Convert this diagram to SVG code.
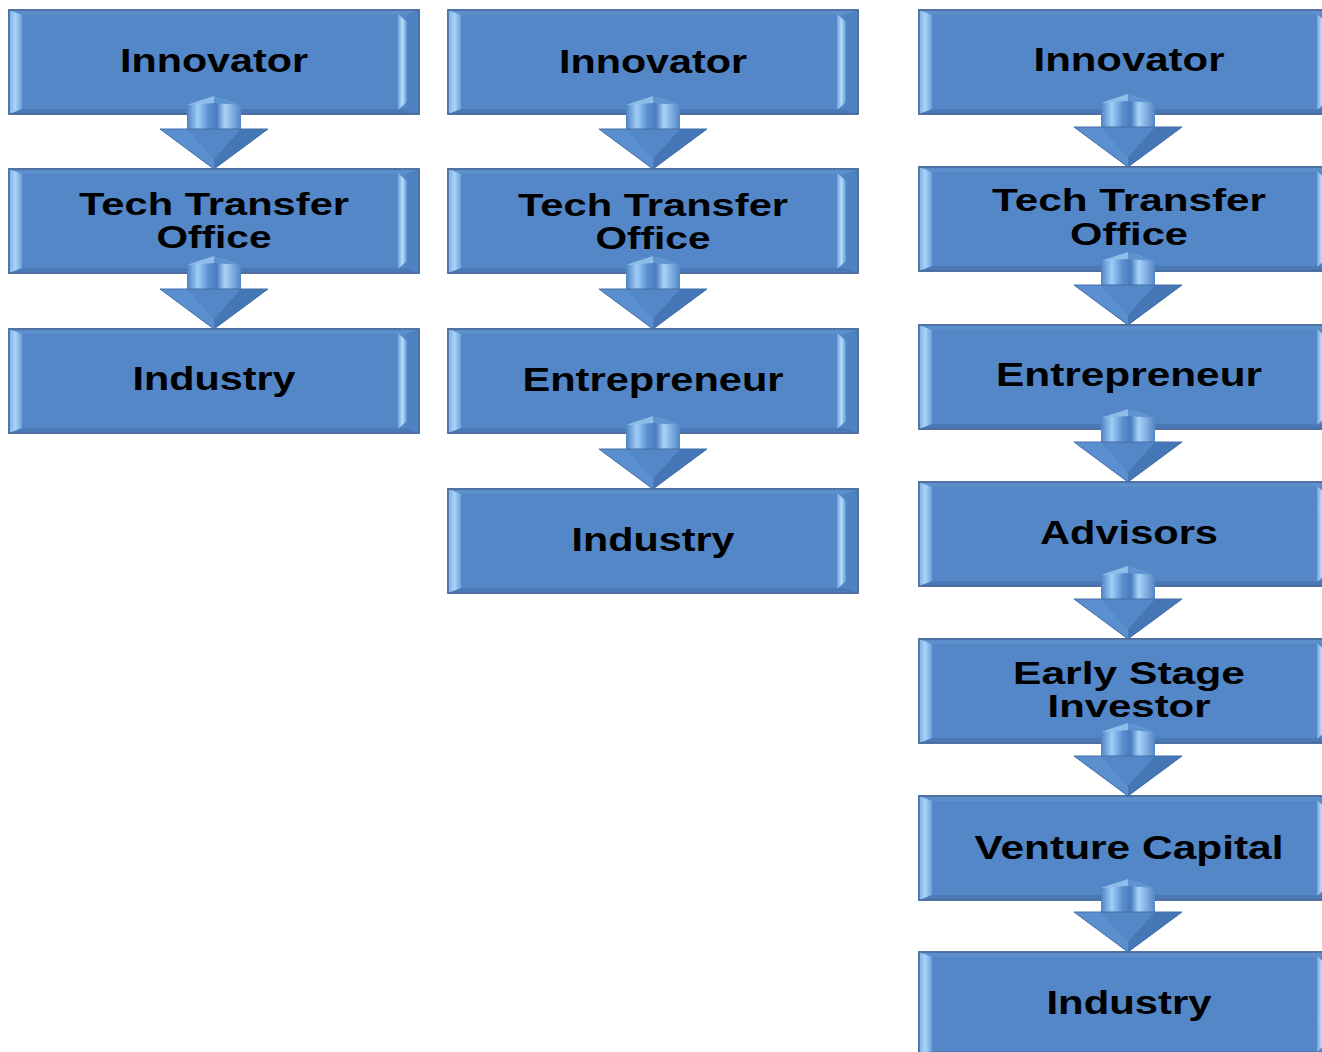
<svg xmlns="http://www.w3.org/2000/svg" width="1322" height="1052" viewBox="0 0 1322 1052">
<style>
.lbl{font-family:"Liberation Sans",Arial,sans-serif;font-weight:bold;fill:#000;text-anchor:middle}
.s{font-size:34px}
.d{font-size:32px}
.frame{fill:#5487c7;stroke:#47699a;stroke-width:1.5}
.topb{fill:#5d8fcd}
.botb{fill:#4b79b6}
.leftb{fill:url(#lg)}
.rightb{fill:#4f82c2}
.rstrip{fill:url(#rg)}
</style>
<defs>
<linearGradient id="lg" x1="0" x2="1" y1="0" y2="0">
<stop offset="0" stop-color="#7fb1e6"/>
<stop offset="0.5" stop-color="#a9d3f7"/>
<stop offset="1" stop-color="#6d9fdb"/>
</linearGradient>
<linearGradient id="rg" x1="0" x2="1" y1="0" y2="0">
<stop offset="0" stop-color="#6fa2dc"/>
<stop offset="0.5" stop-color="#b6dcfa"/>
<stop offset="1" stop-color="#5f92d0"/>
</linearGradient>
<linearGradient id="sg" x1="0" x2="1" y1="0" y2="0">
<stop offset="0" stop-color="#4f82c2"/>
<stop offset="0.2" stop-color="#9fcdf6"/>
<stop offset="0.4" stop-color="#5a8fcf"/>
<stop offset="0.55" stop-color="#4a7cbd"/>
<stop offset="0.7" stop-color="#a8d3f8"/>
<stop offset="1" stop-color="#5386c6"/>
</linearGradient>
<g id="arrow">
<path d="M-27,-40 L-27,-64 L0,-73 L27,-64 L27,-40Z" fill="url(#sg)"/>
<polygon points="-27,-64 0,-73 0,-66" fill="#8fbde9"/>
<polygon points="27,-64 0,-73 0,-66" fill="#5e93d2"/>
<polygon points="-54,-40 54,-40 0,0" fill="#4d80c1"/>
<polygon points="-54,-40 -27,-40 0,-10 0,0" fill="#5a8fd0"/>
<polygon points="54,-40 27,-40 0,-10 0,0" fill="#4576b6"/>
<polygon points="-27,-40 27,-40 0,-10" fill="#5487c7"/>
<polygon points="-54,-40 54,-40 0,0" fill="none" stroke="#456fa8" stroke-width="1"/>
</g>
<g id="box410">
<rect class="frame" x="0" y="0" width="410" height="104"/>
<polygon class="topb" points="0,0 410,0 397,5 13,5"/>
<polygon class="botb" points="0,104 410,104 397,99 13,99"/>
<polygon class="leftb" points="0,0 13,5 13,99 0,104"/>
<polygon class="rightb" points="410,0 397,5 397,99 410,104"/>
<polygon class="rstrip" points="389,4 398,12 398,92 389,100"/>
<rect x="0" y="0" width="410" height="104" fill="none" stroke="#47699a" stroke-width="1.5"/>
</g>
<g id="box420">
<rect class="frame" x="0" y="0" width="420" height="104"/>
<polygon class="topb" points="0,0 420,0 407,5 13,5"/>
<polygon class="botb" points="0,104 420,104 407,99 13,99"/>
<polygon class="leftb" points="0,0 13,5 13,99 0,104"/>
<polygon class="rightb" points="420,0 407,5 407,99 420,104"/>
<polygon class="rstrip" points="398,4 407,12 407,92 398,100"/>
<rect x="0" y="0" width="420" height="104" fill="none" stroke="#47699a" stroke-width="1.5"/>
</g>
</defs>
<rect width="1322" height="1052" fill="#fff"/>

<!-- Column 1 -->
<g id="c1-innovator"><use href="#box410" x="9" y="10"/><text class="lbl s" x="214" y="72" textLength="188" lengthAdjust="spacingAndGlyphs">Innovator</text></g>
<g id="c1-tto"><use href="#box410" x="9" y="169"/><text class="lbl d" x="214" y="215" textLength="270" lengthAdjust="spacingAndGlyphs">Tech Transfer</text><text class="lbl d" x="214" y="248" textLength="115" lengthAdjust="spacingAndGlyphs">Office</text></g>
<g id="c1-industry"><use href="#box410" x="9" y="329"/><text class="lbl s" x="214" y="390" textLength="163" lengthAdjust="spacingAndGlyphs">Industry</text></g>

<!-- Column 2 -->
<g id="c2-innovator"><use href="#box410" x="448" y="10"/><text class="lbl s" x="653" y="73" textLength="188" lengthAdjust="spacingAndGlyphs">Innovator</text></g>
<g id="c2-tto"><use href="#box410" x="448" y="169"/><text class="lbl d" x="653" y="216" textLength="270" lengthAdjust="spacingAndGlyphs">Tech Transfer</text><text class="lbl d" x="653" y="249" textLength="115" lengthAdjust="spacingAndGlyphs">Office</text></g>
<g id="c2-entrepreneur"><use href="#box410" x="448" y="329"/><text class="lbl s" x="653" y="391" textLength="261" lengthAdjust="spacingAndGlyphs">Entrepreneur</text></g>
<g id="c2-industry"><use href="#box410" x="448" y="489"/><text class="lbl s" x="653" y="551" textLength="163" lengthAdjust="spacingAndGlyphs">Industry</text></g>

<!-- Column 3 -->
<g id="c3-innovator"><use href="#box420" x="919" y="10"/><text class="lbl s" x="1129" y="71" textLength="191" lengthAdjust="spacingAndGlyphs">Innovator</text></g>
<g id="c3-tto"><use href="#box420" x="919" y="167"/><text class="lbl d" x="1129" y="211" textLength="274" lengthAdjust="spacingAndGlyphs">Tech Transfer</text><text class="lbl d" x="1129" y="245" textLength="118" lengthAdjust="spacingAndGlyphs">Office</text></g>
<g id="c3-entrepreneur"><use href="#box420" x="919" y="325"/><text class="lbl s" x="1129" y="386" textLength="266" lengthAdjust="spacingAndGlyphs">Entrepreneur</text></g>
<g id="c3-advisors"><use href="#box420" x="919" y="482"/><text class="lbl s" x="1129" y="544" textLength="178" lengthAdjust="spacingAndGlyphs">Advisors</text></g>
<g id="c3-early"><use href="#box420" x="919" y="639"/><text class="lbl d" x="1129" y="684" textLength="232" lengthAdjust="spacingAndGlyphs">Early Stage</text><text class="lbl d" x="1129" y="717" textLength="163" lengthAdjust="spacingAndGlyphs">Investor</text></g>
<g id="c3-vc"><use href="#box420" x="919" y="796"/><text class="lbl s" x="1129" y="859" textLength="309" lengthAdjust="spacingAndGlyphs">Venture Capital</text></g>
<g id="c3-industry"><use href="#box420" x="919" y="952"/><text class="lbl s" x="1129" y="1014" textLength="165" lengthAdjust="spacingAndGlyphs">Industry</text></g>

<g id="connectors">
<use href="#arrow" x="214" y="169"/>
<use href="#arrow" x="214" y="329"/>
<use href="#arrow" x="653" y="169"/>
<use href="#arrow" x="653" y="329"/>
<use href="#arrow" x="653" y="489"/>
<use href="#arrow" x="1128" y="167"/>
<use href="#arrow" x="1128" y="325"/>
<use href="#arrow" x="1128" y="482"/>
<use href="#arrow" x="1128" y="639"/>
<use href="#arrow" x="1128" y="796"/>
<use href="#arrow" x="1128" y="952"/>
</g>
</svg>
